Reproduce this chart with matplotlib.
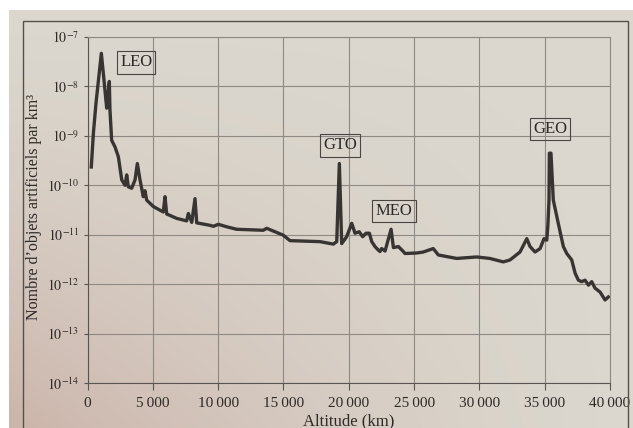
import matplotlib
matplotlib.use('Agg')
import matplotlib.pyplot as plt
import numpy as np
from matplotlib.patches import Rectangle

plt.rcParams['font.family'] = ['Liberation Serif', 'DejaVu Serif']
plt.rcParams['mathtext.fontset'] = 'stix'

# altitude (km) and log10 of object density (objects per km3)
altitude = [290, 450, 650, 1060, 1210, 1470, 1670, 1720, 1850, 2100, 2360, 2620,
            2870, 3000, 3125, 3380, 3640, 3815, 4020, 4270, 4400, 4530, 5040, 5800,
            5935, 6060, 6830, 7590, 7720, 7980, 8230, 8360, 9380, 9630, 10020, 10660,
            11420, 13460, 13720, 14990, 15500, 17800, 18820, 19080, 19280, 19460,
            19840, 20230, 20480, 20800, 21070, 21320, 21580, 21760, 22010, 22260,
            22390, 22520, 22780, 23240, 23420, 23800, 24180, 24310, 25200, 25710,
            26470, 26860, 28260, 29800, 30800, 31830, 32350, 33110, 33630, 33880,
            34260, 34650, 34950, 35160, 35240, 35330, 35360, 35480, 35660, 36040,
            36430, 36690, 37070, 37330, 37580, 37830, 38090, 38350, 38600, 38850,
            39240, 39620, 39870]
log_density = [-9.63, -8.95, -8.34, -7.33, -7.73, -8.44, -7.90, -8.48, -9.09, -9.22,
               -9.42, -9.89, -10.00, -9.79, -10.03, -10.06, -9.89, -9.56, -9.89,
               -10.23, -10.11, -10.30, -10.43, -10.54, -10.23, -10.58, -10.67, -10.72,
               -10.57, -10.75, -10.27, -10.76, -10.81, -10.83, -10.79, -10.84, -10.89,
               -10.91, -10.87, -11.01, -11.12, -11.14, -11.19, -11.14, -9.56, -11.18,
               -11.04, -10.77, -10.97, -10.94, -11.04, -10.97, -10.97, -11.14, -11.24,
               -11.31, -11.34, -11.28, -11.33, -10.89, -11.26, -11.24, -11.34, -11.38,
               -11.37, -11.35, -11.28, -11.41, -11.48, -11.45, -11.48, -11.55, -11.51,
               -11.35, -11.08, -11.24, -11.35, -11.28, -11.08, -11.11, -10.83, -10.30,
               -9.35, -9.35, -10.30, -10.77, -11.24, -11.38, -11.51, -11.78, -11.92,
               -11.95, -11.92, -12.02, -11.95, -12.08, -12.16, -12.32, -12.26]

orbit_names = ['LEO', 'GTO', 'MEO', 'GEO']
orbit_x = [3720, 19330, 23470, 35400]
orbit_y = [10**-7.51, 10**-9.19, 10**-10.52, 10**-8.86]

x_ticks = [0, 5000, 10000, 15000, 20000, 25000, 30000, 35000, 40000]
x_labels = ['0', '5\u2009000', '10\u2009000', '15\u2009000', '20\u2009000',
            '25\u2009000', '30\u2009000', '35\u2009000', '40\u2009000']
y_exps = [-14, -13, -12, -11, -10, -9, -8, -7]

ink = '#383432'
grid = '#8e8983'
text_col = '#2e2a28'

fig = plt.figure(figsize=(6.33, 4.28), dpi=100, facecolor='white')

# paper background with a soft tint (photo of a book page)
bg = fig.add_axes([9/633, 0, 1 - 9/633, 1 - 10/428], zorder=-5)
gy, gx = np.mgrid[0:1:60j, 0:1:90j]
light = np.array([0.86, 0.845, 0.81])
warm = np.array([0.80, 0.71, 0.67])
w = (np.clip(1.0 * (1 - gx) * (1 - gy), 0, 1) ** 1.4)[..., None]
bg.imshow(light * (1 - w) + warm * w, origin='lower', aspect='auto',
          extent=[0, 1, 0, 1], interpolation='bicubic')
bg.axis('off')

fig.patches.append(Rectangle((23/633, -0.1), (628-23)/633, 1.1 - 21/428,
                             transform=fig.transFigure, facecolor='none',
                             edgecolor='#55504c', linewidth=1.0, zorder=5))

ax = fig.add_axes([87.5/633, 45/428, (610-87.5)/633, (383-37)/428])
ax.set_facecolor('none')
ax.plot(altitude, 10**np.array(log_density), color=ink, lw=2.4,
        solid_joinstyle='round')
ax.set_yscale('log')
ax.set_xlim(0, 40000)
ax.set_ylim(1e-14, 1e-7)
ax.set_xticks(x_ticks)
ax.set_xticklabels(x_labels)
ax.set_yticks([10.0**e for e in y_exps])
ax.set_yticklabels([r'$10^{%d}$' % e for e in y_exps])
ax.yaxis.set_minor_locator(plt.NullLocator())
ax.grid(True, color=grid, lw=0.8)
for s in ax.spines.values():
    s.set_color(grid)
    s.set_linewidth(0.8)
ax.spines['left'].set_color('#5a5550')
ax.spines['bottom'].set_color('#5a5550')
ax.tick_params(axis='both', colors='#5a5550', labelcolor=text_col, width=0.8)
ax.tick_params(axis='x', labelsize=11, length=5, pad=5)
ax.tick_params(axis='y', labelsize=10, length=3, pad=3)
ax.set_xlabel('Altitude (km)', fontsize=12, color=text_col)
ax.xaxis.set_label_coords(0.5, -0.088)
ax.set_ylabel("Nombre d\u2019objets artificiels par km\u00b3", fontsize=11.5,
              color=text_col)
ax.yaxis.set_label_coords(-(87.5 - 42) / (610 - 87.5), 0.51)

for name, xv, yv in zip(orbit_names, orbit_x, orbit_y):
    ax.text(xv, yv, name, ha='center', va='center', fontsize=12, color=text_col,
            bbox=dict(boxstyle='square,pad=0.2', facecolor='none',
                      edgecolor='#4a4542', linewidth=0.8))

fig.savefig('out.png', dpi=100, facecolor=fig.get_facecolor())
